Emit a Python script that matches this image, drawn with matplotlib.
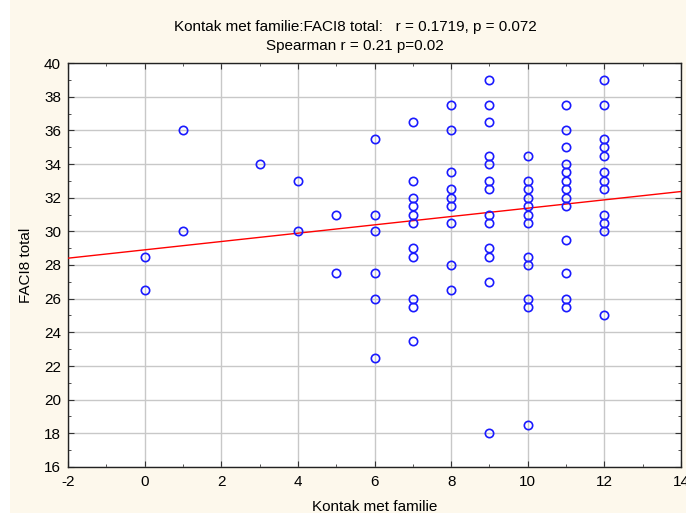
import matplotlib
matplotlib.use("Agg")
import matplotlib.pyplot as plt
from matplotlib.patches import Rectangle
from matplotlib.ticker import MultipleLocator
import numpy as np

plt.rcParams["font.family"] = ["Liberation Sans", "DejaVu Sans"]
plt.rcParams["axes.unicode_minus"] = False

# Kontak met familie (x) -> FACI8 total values read per column
columns = {
    0: [28.5, 26.5],
    1: [36, 30],
    3: [34],
    4: [33, 30],
    5: [31, 27.5],
    6: [35.5, 31, 30, 27.5, 26, 22.5],
    7: [36.5, 33, 32, 31.5, 31, 30.5, 29, 28.5, 26, 25.5, 23.5],
    8: [37.5, 36, 33.5, 32.5, 32, 31.5, 30.5, 28, 26.5],
    9: [39, 37.5, 36.5, 34.5, 34, 33, 32.5, 31, 30.5, 29, 28.5, 27, 18],
    10: [34.5, 33, 32.5, 32, 31.5, 31, 30.5, 28.5, 28, 26, 25.5, 18.5],
    11: [37.5, 36, 35, 34, 33.5, 33, 32.5, 32, 31.5, 29.5, 27.5, 26, 25.5],
    12: [39, 37.5, 35.5, 35, 34.5, 33.5, 33, 32.5, 31, 30.5, 30, 25],
}
kontakt = [x for x, ys in columns.items() for _ in ys]
faci8 = [y for ys in columns.values() for y in ys]

# regression line as drawn in the picture
fit_intercept = 28.9
fit_slope = 0.2475

title_1 = "Kontak met familie:FACI8 total:   r = 0.1719, p = 0.072"
title_2 = "Spearman r = 0.21 p=0.02"

bg = "#fdf8ec"
fig = plt.figure(figsize=(6.86, 5.13), dpi=100, facecolor=bg)
# thin white strip down the left edge, as in the screenshot
fig.patches.append(Rectangle((0, 0), 10 / 686, 1, transform=fig.transFigure,
                             facecolor="white", edgecolor="none", zorder=0))

ax = fig.add_axes([68 / 686, 1 - 467 / 513, 613 / 686, 404 / 513])
ax.set_facecolor("white")

ax.set_xlim(-2, 14)
ax.set_ylim(16, 40)
ax.xaxis.set_major_locator(MultipleLocator(2))
ax.xaxis.set_minor_locator(MultipleLocator(1))
ax.yaxis.set_major_locator(MultipleLocator(2))
ax.yaxis.set_minor_locator(MultipleLocator(1))
ax.grid(True, which="major", color="#c8c8c8", linewidth=1.0)
ax.set_axisbelow(True)

ax.tick_params(which="both", direction="in", top=True, right=True,
               labelsize=11, color="#333333")
ax.tick_params(which="major", length=4)
ax.tick_params(which="minor", length=2.5)
ax.tick_params(axis="x", pad=6)
ax.tick_params(axis="y", pad=5)
for s in ax.spines.values():
    s.set_color("#222222")
    s.set_linewidth(1.0)

xs = np.array([-2, 14])
ax.plot(xs, fit_intercept + fit_slope * xs, color="red", linewidth=1.0, zorder=3)
ax.plot(kontakt, faci8, linestyle="none", marker="o", markersize=6,
        markerfacecolor="none", markeredgecolor="#1a1aff", markeredgewidth=1.2,
        zorder=4, clip_on=False)

ax.set_xlabel("Kontak met familie", fontsize=11, labelpad=8)
ax.set_ylabel("FACI8 total", fontsize=11, labelpad=8)

fig.text(355 / 686, 1 - 27 / 513, title_1, ha="center", va="center", fontsize=11)
fig.text(355 / 686, 1 - 46 / 513, title_2, ha="center", va="center", fontsize=11)

fig.savefig("out.png", dpi=100, facecolor=bg)
